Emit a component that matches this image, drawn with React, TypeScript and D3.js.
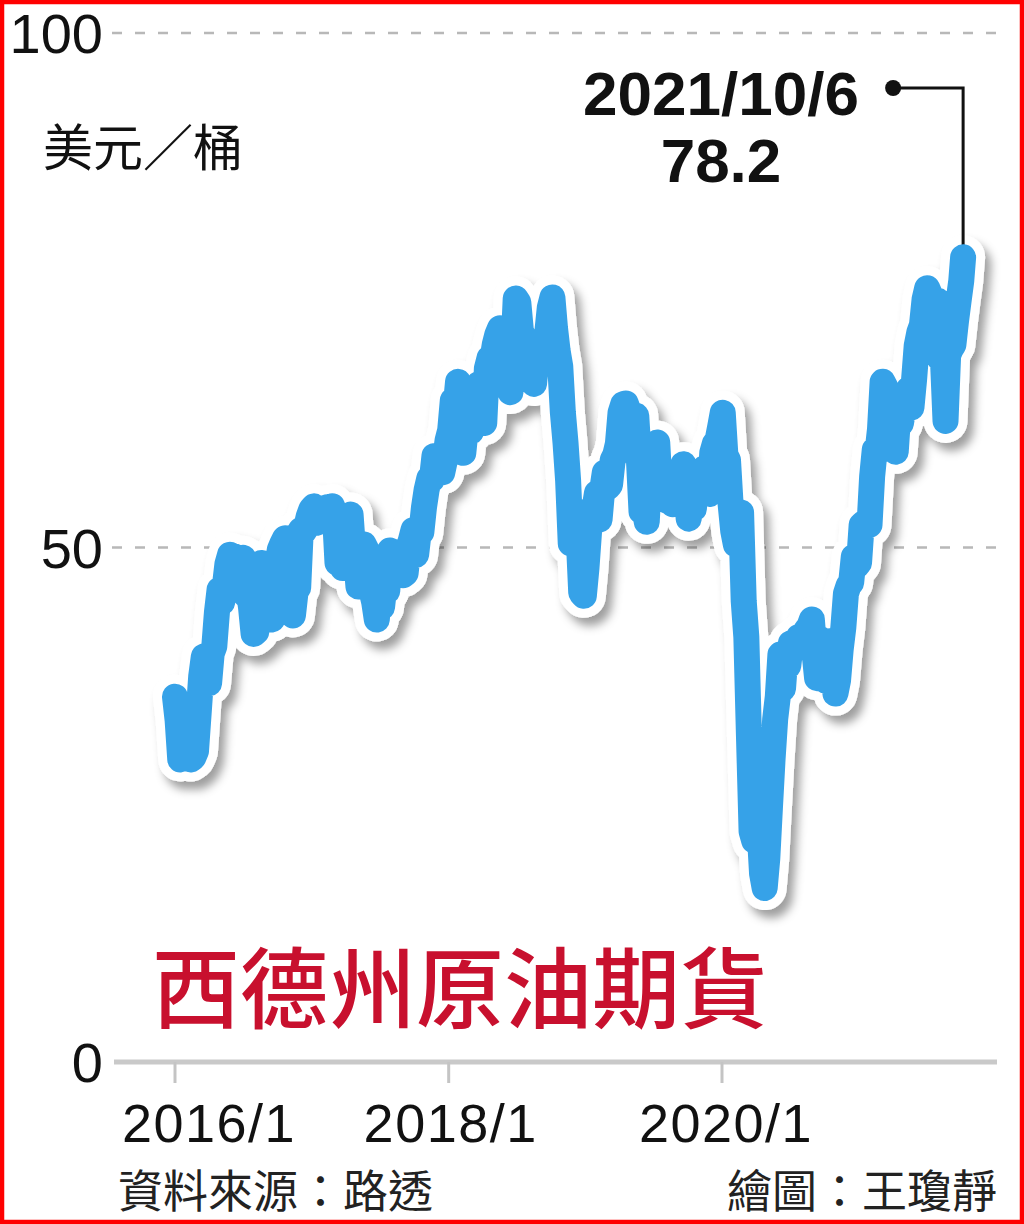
import * as d3 from 'd3';

// WTI weekly closes (Fridays), USD per barrel
const firstFriday = new Date(2016, 0, 1);
const wti2016 = [
  35.5, 33.2, 29.4, 32.2, 33.6, 30.9, 29.4, 29.6, 30.2, 33.8, 37.5, 39.4, 39.5,
  36.8, 39.7, 40.4, 43.7, 45.9, 44.7, 46.2, 48.4, 49.3, 48.6, 49.1, 48.0, 47.6,
  49.0, 45.4, 45.9, 44.2, 41.6, 41.8, 44.5, 48.5, 47.6, 44.4, 45.9, 43.0, 44.5,
  48.2, 49.8, 50.4, 50.9, 48.7, 44.1, 43.4, 45.7, 46.1, 51.7, 51.5, 51.9, 53.0, 53.7,
];
const wti2017 = [
  54.0, 52.4, 53.2, 53.2, 53.8, 53.9, 53.4, 54.0, 53.3, 48.5, 48.8, 48.0, 50.6,
  52.2, 53.2, 49.6, 49.3, 46.2, 47.8, 50.3, 49.8, 47.7, 45.8, 44.7, 43.0, 46.0,
  44.2, 46.5, 45.8, 49.7, 49.6, 48.8, 48.5, 47.9, 47.3, 47.5, 49.9, 50.7, 51.7,
  49.3, 51.5, 51.5, 53.9, 55.6, 56.7, 56.6, 58.9, 58.4, 57.4, 57.3, 58.5, 60.4,
];
const wti2018 = [
  61.4, 64.3, 63.4, 66.1, 65.5, 59.2, 61.7, 63.6, 61.3, 62.0, 62.3, 65.9, 64.9,
  62.1, 67.4, 68.4, 68.1, 69.7, 70.7, 71.3, 67.9, 65.8, 65.7, 65.1, 68.6, 74.2,
  73.8, 71.0, 70.5, 68.7, 68.5, 67.6, 65.9, 68.7, 69.8, 67.8, 69.0, 70.8, 73.3,
  74.3, 71.3, 69.1, 67.6, 63.1, 60.2, 56.5, 50.4, 50.9, 52.6, 51.2, 45.6, 45.3,
];
const wti2019 = [
  48.0, 51.6, 53.8, 53.7, 55.3, 52.7, 55.6, 57.3, 55.8, 56.1, 58.5, 59.0, 60.1,
  63.1, 63.9, 64.0, 63.3, 61.9, 61.7, 62.8, 58.6, 53.5, 54.0, 52.5, 57.4, 58.5,
  57.5, 60.2, 55.6, 56.2, 55.7, 54.5, 54.9, 54.2, 55.1, 56.5, 54.9, 58.1, 55.9,
  52.8, 54.7, 53.8, 56.7, 56.2, 57.2, 57.7, 57.8, 55.2, 59.2, 60.1, 60.4, 61.7,
];
const wti2020 = [
  63.1, 59.0, 58.5, 54.2, 51.6, 50.3, 52.1, 53.4, 44.8, 41.3, 31.7, 22.4, 21.5,
  28.3, 22.8, 18.3, 16.9, 19.8, 24.7, 29.4, 33.3, 35.5, 39.6, 36.3, 39.8, 38.5,
  40.7, 40.6, 40.6, 41.3, 40.3, 41.2, 42.0, 42.3, 43.0, 39.8, 37.3, 41.1, 40.3,
  37.1, 40.6, 40.9, 39.9, 35.8, 37.1, 40.1, 42.2, 45.5, 46.3, 46.6, 49.1, 48.2,
];
const wti2021 = [
  48.5, 52.2, 52.4, 52.3, 52.2, 56.9, 59.5, 59.2, 61.5, 66.1, 65.6, 61.4, 61.0,
  61.5, 59.3, 63.1, 62.1, 63.6, 64.9, 65.4, 63.6, 66.3, 69.6, 70.9, 71.6, 74.1,
  75.2, 74.6, 71.8, 72.1, 74.0, 68.3, 68.4, 62.3, 68.7, 69.3, 69.7, 72.0, 74.0,
  75.9,
];
const lastDate = new Date(2021, 9, 6);
const lastValue = 78.2;

const gridValues = [50, 100];
const yTickValues = [0, 50, 100];
const xTickDates = [new Date(2016, 0, 1), new Date(2018, 0, 1), new Date(2020, 0, 1)];
const xTickLabels = ['2016/1', '2018/1', '2020/1'];

const weekly = [...wti2016, ...wti2017, ...wti2018, ...wti2019, ...wti2020, ...wti2021];
const series: [Date, number][] = weekly.map((v, i) => [d3.timeDay.offset(firstFriday, i * 7), v]);
series.push([lastDate, lastValue]);

const W = 1024;
const H = 1225;
const numFont = '"Liberation Sans", Arial, sans-serif';
const cjkFont = '"Noto Sans CJK TC", "Noto Sans CJK SC", sans-serif';
const labelShift = [34, 2, 4];

export default function App() {
  const x = d3.scaleTime()
    .domain([new Date(2016, 0, 1), new Date(2020, 0, 1)])
    .range([175, 722]);
  const y = d3.scaleLinear().domain([0, 100]).range([1062, 33]);

  const line = d3.line<[Date, number]>()
    .x(d => x(d[0]))
    .y(d => y(d[1]))
    .curve(d3.curveLinear);
  const path = line(series) || '';

  const endX = x(lastDate);
  const endY = y(lastValue);
  const dotX = endX - 70;
  const dotY = 88;

  return (
    <div style={{ position: 'absolute', left: 0, top: 0 }}>
      <style>{'body{margin:0}'}</style>
      <svg width={W} height={H} viewBox={`0 0 ${W} ${H}`} style={{ display: 'block', background: '#fff' }}>
        <defs>
          <filter id="lineShadow" x="-10%" y="-10%" width="130%" height="130%">
            <feDropShadow dx="6" dy="8" stdDeviation="5" floodColor="#000" floodOpacity="0.38" />
          </filter>
        </defs>

        {gridValues.map(v => (
          <line key={v} x1={112} x2={997} y1={y(v)} y2={y(v)}
            stroke="#b8b8b8" strokeWidth={2.5} strokeDasharray="10 13" />
        ))}

        <line x1={114} x2={997} y1={y(0)} y2={y(0)} stroke="#c9c9c9" strokeWidth={5} />
        {xTickDates.map((d, i) => (
          <line key={i} x1={x(d)} x2={x(d)} y1={y(0)} y2={y(0) + 21} stroke="#c4c4c4" strokeWidth={3} />
        ))}

        {yTickValues.map(v => (
          <text key={v} x={103} y={y(v) + 20} textAnchor="end" fontFamily={numFont}
            fontSize={56} fill="#111">{v}</text>
        ))}
        {xTickDates.map((d, i) => (
          <text key={i} x={x(d) + labelShift[i]} y={1142} textAnchor="middle" fontFamily={numFont}
            fontSize={54} letterSpacing={1.5} fill="#111">{xTickLabels[i]}</text>
        ))}

        <text x={43} y={166} fontFamily={cjkFont} fontSize={50} fill="#111">美元／桶</text>

        <path d={path} fill="none" stroke="#fff" strokeWidth={44}
          strokeLinejoin="round" strokeLinecap="round" filter="url(#lineShadow)" />
        <path d={`M${dotX},${dotY}H${endX}V${endY}`} fill="none" stroke="#111" strokeWidth={3} />
        <circle cx={dotX} cy={dotY} r={8} fill="#111" />
        <path d={path} fill="none" stroke="#36a2e8" strokeWidth={26}
          strokeLinejoin="round" strokeLinecap="round" />

        <text x={721} y={115} textAnchor="middle" fontFamily={numFont} fontWeight="bold"
          fontSize={62} fill="#111">2021/10/6</text>
        <text x={721} y={182} textAnchor="middle" fontFamily={numFont} fontWeight="bold"
          fontSize={62} fill="#111">{lastValue}</text>

        <text x={152} y={1021} fontFamily={cjkFont} fontWeight={500} fontSize={88}
          fill="#c8102e">西德州原油期貨</text>

        <text x={118} y={1208} fontFamily={cjkFont} fontSize={45} fill="#222">資料來源：路透</text>
        <text x={997} y={1208} textAnchor="end" fontFamily={cjkFont} fontSize={45} fill="#222">繪圖：王瓊靜</text>

        <rect x={2} y={2} width={1020} height={1220} fill="none" stroke="#ff0000" strokeWidth={4.5} />
      </svg>
    </div>
  );
}
